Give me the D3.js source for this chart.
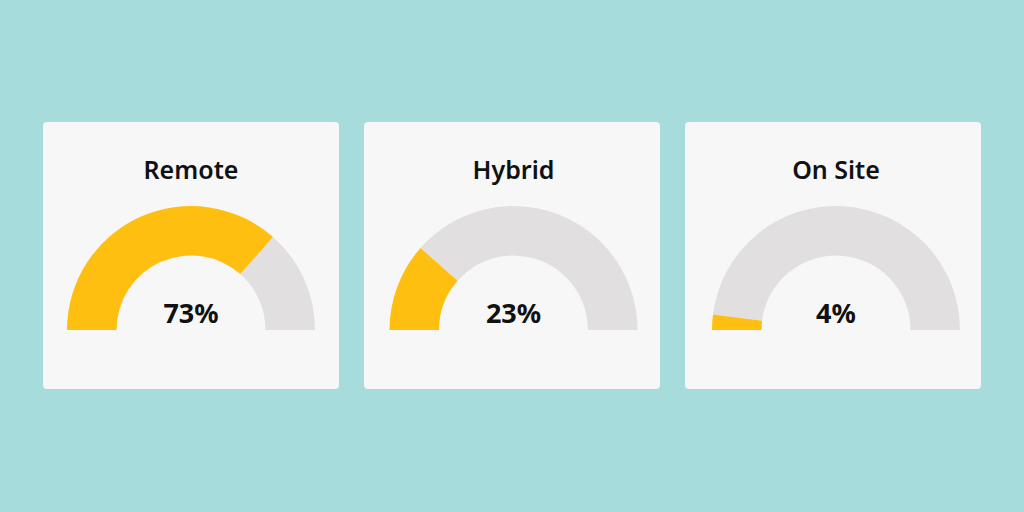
<!DOCTYPE html>
<html>
<head>
<meta charset="utf-8">
<script src="https://d3js.org/d3.v7.min.js"></script>
<style>
  body { margin: 0; background: #a7dcdc; }
  svg { display: block; }
</style>
</head>
<body>
<svg id="chart" width="1024" height="512"></svg>
<script>
// gauge data
var categories = ["Remote", "Hybrid", "On Site"];
var percents = [73, 23, 4];

var width = 1024, height = 512;
var svg = d3.select("#chart");

svg.append("rect").attr("width", width).attr("height", height).attr("fill", "#a7dcdc");

// card boxes and gauge centres
var cardX = d3.scaleBand().domain(categories).range([43, 981]).paddingInner(25 / 321);
var centerX = d3.scalePoint().domain(categories).range([191, 836]);
var cardTop = 122, cardH = 267;
var baseY = 330;
var outerR = 124, innerR = 74.5;

// 0..100 % mapped onto the half circle, left to right
var angle = d3.scaleLinear().domain([0, 100]).range([-Math.PI / 2, Math.PI / 2]);
var arc = d3.arc().innerRadius(innerR).outerRadius(outerR);

svg.selectAll("rect.card")
  .data(categories)
  .enter().append("rect")
    .attr("class", "card")
    .attr("x", function(d) { return cardX(d); })
    .attr("y", cardTop)
    .attr("width", cardX.bandwidth())
    .attr("height", cardH)
    .attr("rx", 4)
    .attr("fill", "#f7f7f7");

var gauge = svg.selectAll("g.gauge")
  .data(categories)
  .enter().append("g")
    .attr("class", "gauge")
    .attr("transform", function(d) { return "translate(" + centerX(d) + "," + baseY + ")"; });

gauge.append("text")
  .attr("y", -151)
  .attr("text-anchor", "middle")
  .attr("font-family", "'Noto Sans', sans-serif")
  .attr("font-weight", 600)
  .attr("font-size", 25)
  .attr("fill", "#111")
  .text(function(d) { return d; });

gauge.append("path")
  .attr("fill", "#e1dfe0")
  .attr("d", function(d, i) {
    return arc({startAngle: angle(percents[i]), endAngle: angle(100)});
  });

gauge.append("path")
  .attr("fill", "#ffbf10")
  .attr("d", function(d, i) {
    return arc({startAngle: angle(0), endAngle: angle(percents[i])});
  });

gauge.append("text")
  .attr("y", -7)
  .attr("text-anchor", "middle")
  .attr("font-family", "'Noto Sans', sans-serif")
  .attr("font-weight", 700)
  .attr("font-size", 27)
  .attr("fill", "#111")
  .text(function(d, i) { return percents[i] + "%"; });
</script>
</body>
</html>
